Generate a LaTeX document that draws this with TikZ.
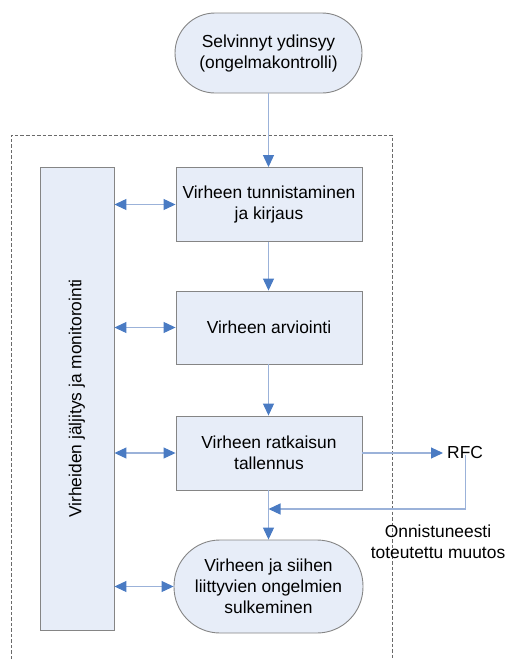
\documentclass[tikz,border=0pt]{standalone}
\usepackage{fontspec}
\setmainfont{Liberation Sans}
\usetikzlibrary{arrows.meta}
\definecolor{boxfill}{HTML}{E7EDF8}
\definecolor{boxline}{HTML}{858585}
\definecolor{linkline}{HTML}{9BB2D9}
\definecolor{linkhead}{HTML}{4A7BC3}
\definecolor{framegray}{HTML}{6A6A6A}
\begin{document}
\begin{tikzpicture}[x=1pt,y=-1pt,
  every node/.style={font=\fontsize{17.4}{21}\selectfont, inner sep=0pt},
  procbox/.style={draw=boxline, fill=boxfill, line width=0.9pt,
    minimum width=186pt, minimum height=74pt, align=center},
  terminal/.style={procbox, rounded corners=#1},
  headtip/.tip={Triangle[length=12pt,width=11pt,color=linkhead]},
  link/.style={draw=linkline, line width=1.1pt},
  onearrow/.style={link, -headtip},
  twoarrow/.style={link, headtip-headtip},
  frame/.style={draw=framegray, line width=0.7pt, dash pattern=on 3.5pt off 2pt},
]
\useasboundingbox (0,0) rectangle (506,659);

% surrounding dashed frame (open at the bottom)
\draw[frame] (11,659) -- (11,135) -- (392,135) -- (392,659);

% nodes
\node[terminal=40pt, minimum width=187pt, minimum height=80pt] (start) at (268.5,53)
  {Selvinnyt ydinsyy\\(ongelmakontrolli)};
\node[procbox] (ident) at (269,204.5) {Virheen tunnistaminen\\ja kirjaus};
\node[procbox, minimum height=73pt] (assess) at (269,327.5) {Virheen arviointi};
\node[procbox] (record) at (269,453) {Virheen ratkaisun\\tallennus};
\node[terminal=46pt, minimum width=189pt, minimum height=93pt] (close) at (268.5,586.5)
  {Virheen ja siihen\\liittyvien ongelmien\\sulkeminen};
\node[procbox, minimum width=74pt, minimum height=463pt] (monitor) at (77,398.5) {};
\node[rotate=90] (montext) at (monitor.center) {Virheiden jäljitys ja monitorointi};
\node[anchor=west] (rfc) at (447,453) {RFC};
\node[align=center] (success) at (438,542) {Onnistuneesti\\toteutettu muutos};
\coordinate (turn) at (rfc.south |- 0,509);
\coordinate (join) at (268.5,509);

% main flow
\draw[onearrow] (start.south -| 268.5,0) -- (ident.north -| 268.5,0);
\draw[onearrow] (ident.south -| 268.5,0) -- (assess.north -| 268.5,0);
\draw[onearrow] (assess.south -| 268.5,0) -- (record.north -| 268.5,0);
\draw[onearrow] (record.south -| 268.5,0) -- (close.north -| 268.5,0);

% change request and its return
\draw[onearrow, shorten >=4pt] (record.east) -- (rfc.west);
\draw[onearrow] ([yshift=4pt]rfc.south) -- (turn) -- (join);

% links with the monitoring column
\draw[twoarrow] (monitor.east |- ident.west) -- (ident.west);
\draw[twoarrow] (monitor.east |- assess.west) -- (assess.west);
\draw[twoarrow] (monitor.east |- record.west) -- (record.west);
\draw[twoarrow] (monitor.east |- close.west) -- (close.west);
\end{tikzpicture}
\end{document}
